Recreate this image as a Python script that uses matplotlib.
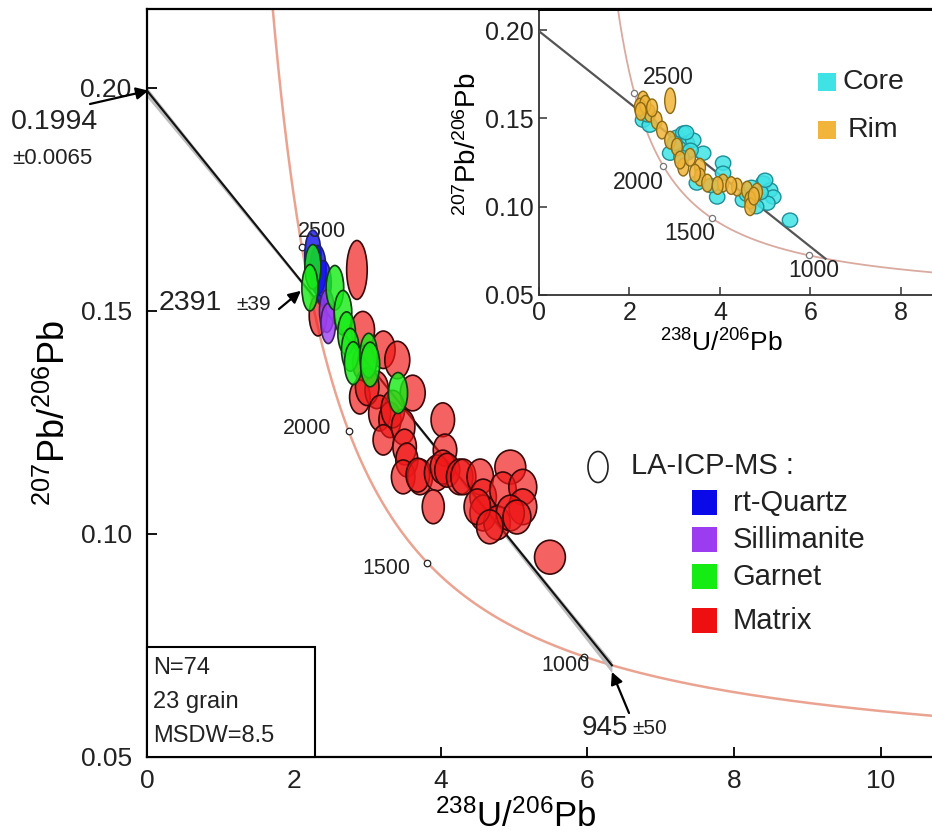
import numpy as np
import matplotlib
matplotlib.use('Agg')
import matplotlib.pyplot as plt
from matplotlib.patches import Ellipse, Rectangle
from matplotlib.colors import to_rgb

plt.rcParams['font.family'] = ['Liberation Sans', 'DejaVu Sans']
plt.rcParams['mathtext.fontset'] = 'custom'
plt.rcParams['mathtext.rm'] = 'Liberation Sans'
plt.rcParams['mathtext.it'] = 'Liberation Sans:italic'
plt.rcParams['mathtext.bf'] = 'Liberation Sans:bold'

# ---------------- data ----------------
# Main plot: 238U/206Pb (x), 207Pb/206Pb (y), 2-sigma half sizes
quartz_x = [2.26, 2.33, 2.40]
quartz_y = [0.1626, 0.1592, 0.1563]
quartz_sx = [0.11, 0.11, 0.11]
quartz_sy = [0.0055, 0.0055, 0.0050]

sill_x = [2.45, 2.47]
sill_y = [0.1500, 0.1472]
sill_sx = [0.10, 0.10]
sill_sy = [0.0048, 0.0045]

garnet_x = [2.26, 2.22, 2.56, 2.67, 2.72, 2.77, 2.81, 3.02, 3.04, 3.42]
garnet_y = [0.1599, 0.1552, 0.1552, 0.1496, 0.1450, 0.1413, 0.1383, 0.1400, 0.1380, 0.1316]
garnet_sx = [0.11, 0.11, 0.12, 0.12, 0.12, 0.12, 0.12, 0.12, 0.13, 0.13]
garnet_sy = [0.0050, 0.0052, 0.0050, 0.0050, 0.0048, 0.0048, 0.0048, 0.0050, 0.0050, 0.0046]

matrix_x = [2.86, 2.33, 2.94, 3.22, 3.41, 2.96, 2.90, 3.13, 3.00, 3.17,
            3.62, 3.31, 3.35, 3.49, 4.03, 3.22, 3.51, 4.06, 3.54, 3.49,
            3.72, 3.69, 3.95, 4.03, 4.09, 4.26, 4.31, 3.90, 4.54, 4.95,
            4.58, 4.85, 5.12, 5.12, 4.58, 4.77, 4.95, 4.50, 5.04, 4.67,
            5.49]
matrix_y = [0.1592, 0.1490, 0.1457, 0.1413, 0.1390, 0.1383, 0.1307, 0.1323, 0.1330, 0.1271,
            0.1316, 0.1256, 0.1280, 0.1240, 0.1256, 0.1211, 0.1195, 0.1188, 0.1166, 0.1128,
            0.1128, 0.1132, 0.1137, 0.1150, 0.1143, 0.1128, 0.1128, 0.1061, 0.1128, 0.1150,
            0.1083, 0.1099, 0.1105, 0.1061, 0.1047, 0.1025, 0.1047, 0.1061, 0.1038, 0.1016,
            0.0948]
matrix_sx = [0.14, 0.12, 0.16, 0.16, 0.17, 0.16, 0.14, 0.16, 0.16, 0.15,
             0.17, 0.15, 0.16, 0.16, 0.16, 0.14, 0.16, 0.16, 0.15, 0.16,
             0.17, 0.16, 0.17, 0.17, 0.17, 0.18, 0.17, 0.15, 0.18, 0.21,
             0.18, 0.18, 0.19, 0.19, 0.18, 0.18, 0.19, 0.18, 0.19, 0.18,
             0.21]
matrix_sy = [0.0066, 0.0046, 0.0042, 0.0042, 0.0042, 0.0040, 0.0038, 0.0042, 0.0042, 0.0040,
             0.0040, 0.0040, 0.0042, 0.0040, 0.0038, 0.0034, 0.0040, 0.0036, 0.0038, 0.0038,
             0.0040, 0.0038, 0.0040, 0.0038, 0.0038, 0.0040, 0.0040, 0.0038, 0.0040, 0.0038,
             0.0040, 0.0040, 0.0040, 0.0040, 0.0040, 0.0038, 0.0040, 0.0040, 0.0038, 0.0038,
             0.0038]

# Inset: core / rim
core_x = [2.30, 2.45, 2.90, 3.05, 3.19, 3.27, 3.41, 3.27, 3.63, 4.07, 4.07, 3.49,
          3.94, 4.51, 4.96, 5.11, 5.18, 5.05, 5.55, 3.10, 4.60, 4.80, 3.80,
          2.40, 3.00, 3.35, 3.15, 4.90, 5.00, 4.70, 3.25]
core_y = [0.1490, 0.1462, 0.1303, 0.1394, 0.1417, 0.1360, 0.1377, 0.1303, 0.1303, 0.1247, 0.1190, 0.1134,
          0.1055, 0.1038, 0.1134, 0.1094, 0.1055, 0.1020, 0.0924, 0.1330, 0.1070, 0.1000, 0.1120,
          0.1520, 0.1360, 0.1320, 0.1280, 0.1080, 0.1150, 0.1110, 0.1420]
rim_x = [2.30, 2.23, 2.45, 2.60, 2.72, 2.90, 3.05, 3.19, 3.12, 3.34, 3.56,
         3.56, 3.72, 4.07, 4.38, 4.60, 4.82, 4.67, 4.67, 2.35, 3.95, 2.25, 2.50,
         3.45, 4.25, 4.75]
rim_y = [0.1604, 0.1564, 0.1530, 0.1490, 0.1434, 0.1377, 0.1338, 0.1224, 0.1264, 0.1280, 0.1224,
         0.1168, 0.1134, 0.1134, 0.1111, 0.1094, 0.1083, 0.1038, 0.1000, 0.1580, 0.1120, 0.1540, 0.1560,
         0.1190, 0.1120, 0.1060]
rim_tall_x, rim_tall_y = 2.90, 0.1600
core_sx, core_sy = 0.17, 0.0040
rim_sx, rim_sy = 0.12, 0.0050

# Concordia (Tera-Wasserburg) constants and labelled ages (Ma)
L238, L235, U_RATIO = 1.55125e-10, 9.8485e-10, 137.88
marker_ages = [2500, 2000, 1500, 1000]
# Discordia intercepts
y0_intercept = 0.1994
lower_age = 945
upper_age = 2391

stats_lines = ['N=74', '23 grain', 'MSDW=8.5']
legend_names = ['rt-Quartz', 'Sillimanite', 'Garnet', 'Matrix']
legend_colors = ['#0a0ae8', '#9b3cf0', '#14ec14', '#ee1010']


def concordia(t_ma):
    t = np.asarray(t_ma, dtype=float) * 1e6
    e8 = np.exp(L238 * t) - 1
    e5 = np.exp(L235 * t) - 1
    return 1 / e8, e5 / e8 / U_RATIO


# ---------------- figure ----------------
W, H = 932, 839
fig = plt.figure(figsize=(W / 100, H / 100), dpi=100)


def fx(px):
    return px / W


def fy(py):
    return 1 - py / H


ax = fig.add_axes([fx(147), fy(757), fx(932) - fx(147), fy(9) - fy(757)])
ax.set_xlim(0, 10.695)
ax.set_ylim(0.05, 0.2177)
ax.spines['right'].set_visible(False)
for s in ['left', 'bottom', 'top']:
    ax.spines[s].set_linewidth(1.6)
ax.set_xticks([0, 2, 4, 6, 8, 10])
ax.set_xticklabels(['0', '2', '4', '6', '8', '10'])
ax.set_yticks([0.05, 0.10, 0.15, 0.20])
ax.set_yticklabels(['0.05', '0.10', '0.15', '0.20'])
ax.tick_params(axis='both', direction='in', length=7, width=1.3, labelsize=19,
               labelcolor='#222222')
ax.tick_params(axis='y', pad=11)
ax.tick_params(axis='x', pad=9)

# concordia
ages = np.linspace(300, 3300, 600)
cx, cy = concordia(ages)
ax.plot(cx, cy, color='#eba391', lw=1.8, zorder=2)

# discordia line + envelope
lx, ly = concordia(lower_age)
xl = np.linspace(0, float(lx), 200)
yl = y0_intercept + (float(ly) - y0_intercept) / float(lx) * xl
env = 0.00035 + 0.00008 * (xl - 3.0) ** 2
ax.fill_between(xl, yl - env * 1.4, yl + env * 0.7, color='#bcbcbc', lw=0, zorder=2)
ax.plot(xl, yl, color='#111111', lw=1.5, zorder=3)

# age markers
mx, my = concordia(marker_ages)
ax.scatter(mx, my, s=22, facecolor='white', edgecolor='#222222', lw=0.9, zorder=4)
main_offsets = [(20, 16), (-42, 3), (-41, -6), (-19, -9)]
for age, x, y, off in zip(marker_ages, mx, my, main_offsets):
    ax.annotate(str(age), (x, y), xytext=off, textcoords='offset pixels',
                ha='center', va='center', fontsize=15.5, color='#222222', zorder=6)


def draw_ellipses(a, xs, ys, sxs, sys_, face, edge, alpha, z, lw=1.2):
    n = len(xs)
    sxs = np.broadcast_to(sxs, (n,))
    sys_ = np.broadcast_to(sys_, (n,))
    fc = (*to_rgb(face), alpha)
    for x, y, sx, sy in zip(xs, ys, sxs, sys_):
        a.add_patch(Ellipse((x, y), 2 * sx, 2 * sy, facecolor=fc,
                            edgecolor=edge, lw=lw, zorder=z))


draw_ellipses(ax, matrix_x, matrix_y, matrix_sx, matrix_sy, '#f01818', '#3a0808', 0.68, 5)
draw_ellipses(ax, quartz_x, quartz_y, quartz_sx, quartz_sy, '#1010ee', '#20206a', 0.8, 5)
draw_ellipses(ax, sill_x, sill_y, sill_sx, sill_sy, '#9a40f0', '#402060', 0.8, 5)
draw_ellipses(ax, garnet_x, garnet_y, garnet_sx, garnet_sy, '#18ec18', '#123812', 0.82, 5)


# arrows and intercept texts
def arrow(tip_data, tail_px, a=ax):
    a.annotate('', xy=tip_data, xycoords='data',
               xytext=(tail_px[0], H - tail_px[1]), textcoords='figure pixels',
               arrowprops=dict(arrowstyle='-|>', color='black', lw=1.6,
                               mutation_scale=18, shrinkA=0, shrinkB=0),
               zorder=8, annotation_clip=False)


arrow((0.02, y0_intercept), (90, 104))
fig.text(fx(11), fy(122), '0.1994', ha='left', va='center', fontsize=20.5, color='#222222')
fig.text(fx(12), fy(159), '±0.0065', ha='left', va='center', fontsize=16, color='#222222')

ux, uy = concordia(upper_age)
arrow((float(ux) - 0.13, float(uy) + 0.0005), (279, 309))
fig.text(fx(159), fy(303), '2391', ha='left', va='center', fontsize=20.5, color='#222222')
fig.text(fx(236), fy(304), '±39', ha='left', va='center', fontsize=15, color='#222222')

arrow((float(lx), float(ly) - 0.0015), (629, 713))
fig.text(fx(582), fy(728), '945', ha='left', va='center', fontsize=20, color='#222222')
fig.text(fx(632), fy(729), '±50', ha='left', va='center', fontsize=15, color='#222222')

# stats box
fig.add_artist(Rectangle((fx(147), fy(757)), fx(315) - fx(147), fy(647) - fy(757),
                         transform=fig.transFigure, facecolor='white', edgecolor='black',
                         lw=1.5, zorder=3))
for i, line in enumerate(stats_lines):
    fig.text(fx(153), fy(668 + 34 * i), line, ha='left', va='center', fontsize=17,
             color='#222222', zorder=4)

# axis labels
fig.text(fx(516), fy(817), r'$^{238}$U/$^{206}$Pb', ha='center', va='center', fontsize=25)
fig.text(fx(55), fy(413), r'$^{207}$Pb/$^{206}$Pb', ha='center', va='center', fontsize=26,
         rotation=90)

# main legend
fig.add_artist(Ellipse((fx(598), fy(467)), 20 / W, 31 / H, transform=fig.transFigure,
                       fill=False, edgecolor='#222222', lw=1.2))
fig.text(fx(631), fy(466), 'LA-ICP-MS :', ha='left', va='center', fontsize=21, color='#222222')
for name, col, yc in zip(legend_names, legend_colors, [503, 540, 577, 621]):
    fig.add_artist(Rectangle((fx(692), fy(yc + 12)), 25 / W, 25 / H, transform=fig.transFigure,
                             facecolor=col, edgecolor='none'))
    fig.text(fx(733), fy(yc), name, ha='left', va='center', fontsize=21, color='#222222')

# ---------------- inset ----------------
axi = fig.add_axes([fx(539), fy(295), fx(932) - fx(539), fy(10) - fy(295)])
axi.set_zorder(10)
axi.set_facecolor('white')
axi.set_xlim(0, 8.69)
axi.set_ylim(0.05, 0.2114)
axi.spines['right'].set_visible(False)
axi.spines['top'].set_linewidth(1.4)
axi.spines['left'].set_linewidth(1.3)
axi.spines['bottom'].set_linewidth(1.3)
axi.spines['left'].set_color('#333333')
axi.spines['bottom'].set_color('#333333')
axi.set_xticks([0, 2, 4, 6, 8])
axi.set_xticklabels(['0', '2', '4', '6', '8'])
axi.set_yticks([0.05, 0.10, 0.15, 0.20])
axi.set_yticklabels(['0.05', '0.10', '0.15', '0.20'])
axi.tick_params(axis='both', direction='in', length=6, width=1.1, labelsize=18, colors='#333333',
                labelcolor='#222222')
axi.tick_params(axis='y', pad=4)
axi.tick_params(axis='x', pad=4)

axi.plot(cx, cy, color='#d9aaa0', lw=1.3, zorder=2)
axi.plot(xl, yl, color='#555555', lw=1.6, zorder=3)
axi.scatter(mx, my, s=20, facecolor='white', edgecolor='#777777', lw=0.9, zorder=4)
inset_offsets = [(34, 16), (-25, -16), (-22, -15), (5, -15)]
for age, x, y, off in zip(marker_ages, mx, my, inset_offsets):
    axi.annotate(str(age), (x, y), xytext=off, textcoords='offset pixels',
                 ha='center', va='center', fontsize=16.5, color='#222222', zorder=6)

draw_ellipses(axi, core_x, core_y, core_sx, core_sy, '#3fe3e6', '#1f8e96', 0.85, 5, lw=1.0)
draw_ellipses(axi, rim_x, rim_y, rim_sx, rim_sy, '#f0b53a', '#8c6a14', 0.85, 5, lw=1.0)
draw_ellipses(axi, [rim_tall_x], [rim_tall_y], 0.12, 0.0072, '#f0b53a', '#8c6a14', 0.85, 5, lw=1.0)

for name, col, yc, xt in zip(['Core', 'Rim'], ['#3fe3e6', '#f0b53a'], [82, 130], [842, 848]):
    fig.add_artist(Rectangle((fx(818), fy(yc + 9)), 18 / W, 18 / H, transform=fig.transFigure,
                             facecolor=col, edgecolor='none', zorder=20))
    fig.text(fx(xt), fy(yc), name, ha='left', va='center', fontsize=20.5, color='#222222', zorder=20)

axi.text(-0.18, 0.53, r'$^{207}$Pb/$^{206}$Pb', transform=axi.transAxes, rotation=90,
         ha='center', va='center', fontsize=20)
axi.text(0.465, -0.17, r'$^{238}$U/$^{206}$Pb', transform=axi.transAxes,
         ha='center', va='center', fontsize=19)

fig.savefig('out.png', dpi=100)
